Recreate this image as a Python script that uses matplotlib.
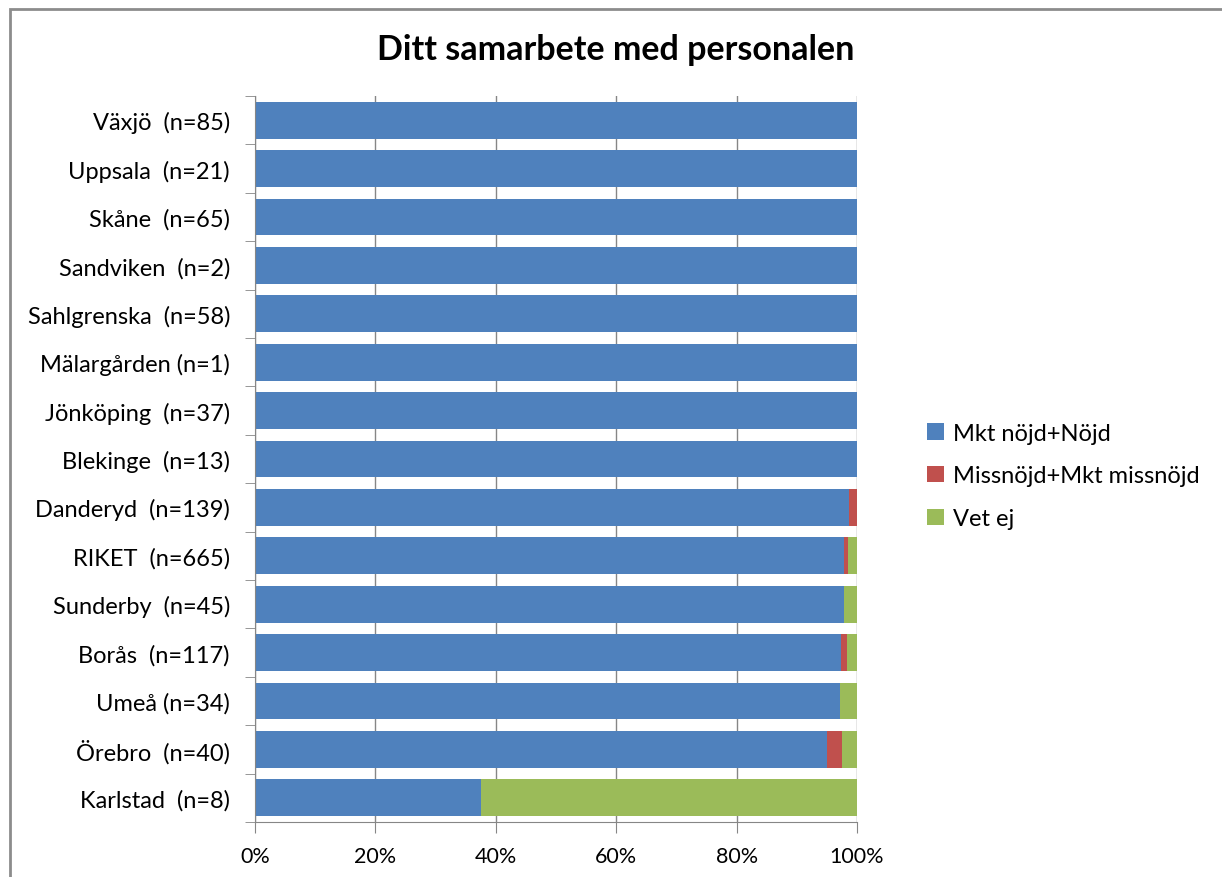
import numpy as np
import matplotlib
matplotlib.use('Agg')
import matplotlib.pyplot as plt
from matplotlib.patches import Rectangle

# Data (top to bottom as in the chart)
categories = ['Växjö  (n=85)', 'Uppsala  (n=21)', 'Skåne  (n=65)', 'Sandviken  (n=2)',
              'Sahlgrenska  (n=58)', 'Mälargården (n=1)', 'Jönköping  (n=37)',
              'Blekinge  (n=13)', 'Danderyd  (n=139)', 'RIKET  (n=665)',
              'Sunderby  (n=45)', 'Borås  (n=117)', 'Umeå (n=34)', 'Örebro  (n=40)',
              'Karlstad  (n=8)']
nojd = [100, 100, 100, 100, 100, 100, 100, 100, 98.6, 97.8, 97.8, 97.4, 97.1, 95.0, 37.5]
missnojd = [0, 0, 0, 0, 0, 0, 0, 0, 1.4, 0.7, 0, 0.9, 0, 2.5, 0]
vetej = [0, 0, 0, 0, 0, 0, 0, 0, 0, 1.5, 2.2, 1.7, 2.9, 2.5, 62.5]
seriesNames = ['Mkt nöjd+Nöjd', 'Missnöjd+Mkt missnöjd', 'Vet ej']
colors = ['#4F81BD', '#C0504D', '#9BBB59']

plt.rcParams['font.family'] = ['Lato', 'DejaVu Sans']
labelSize = 17
xSize = 15.5

fig = plt.figure(figsize=(12.22, 8.78), dpi=100)
ax = fig.add_axes([255/1222, 1 - 823/878, 602/1222, (823 - 97)/878])

y = np.arange(len(categories))
barHeight = 0.76
left = np.zeros(len(categories))
for name, vals, col in zip(seriesNames, [nojd, missnojd, vetej], colors):
  ax.barh(y, vals, barHeight, left=left, color=col, label=name, zorder=2)
  left = left + np.array(vals)

ax.set_ylim(len(categories) - 0.5, -0.5)
ax.set_xlim(0, 100)

# Axis styling
gray = '#868686'
for s in ['top', 'right']:
  ax.spines[s].set_visible(False)
ax.spines['left'].set_color(gray)
ax.spines['bottom'].set_color(gray)
ax.spines['left'].set_zorder(3)

ax.set_xticks(range(0, 101, 20))
ax.set_xticklabels([str(v) + '%' for v in range(0, 101, 20)], fontsize=xSize)
ax.tick_params(axis='x', direction='out', length=8, color=gray, pad=9)
ax.xaxis.grid(True, color=gray, linewidth=1.0, zorder=0)
ax.set_axisbelow(True)

ax.set_yticks(y)
ax.set_yticklabels(categories, fontsize=labelSize)
ax.tick_params(axis='y', which='major', length=0, pad=18)
ax.set_yticks(np.arange(-0.5, len(categories), 1), minor=True)
ax.tick_params(axis='y', which='minor', direction='out', length=7, color=gray)

# Title
fig.text(616/1222, 1 - 50/878, 'Ditt samarbete med personalen', fontsize=24.5,
         fontweight='bold', ha='center', va='center')

# Legend
ax.legend(loc='center left', bbox_to_anchor=(906/1222, 1 - 477/878),
          bbox_transform=fig.transFigure, frameon=False, fontsize=labelSize,
          handlelength=0.7, handleheight=0.7, handletextpad=0.4, labelspacing=0.93)

# Outer chart border (clipped at right/bottom like the screenshot)
fig.patches.append(Rectangle((10/1222, -0.1), 1.2, 1 - 10/878 + 0.1, transform=fig.transFigure,
                             fill=False, edgecolor='#8c8c8c', linewidth=2))

plt.savefig('out.png', dpi=100)
